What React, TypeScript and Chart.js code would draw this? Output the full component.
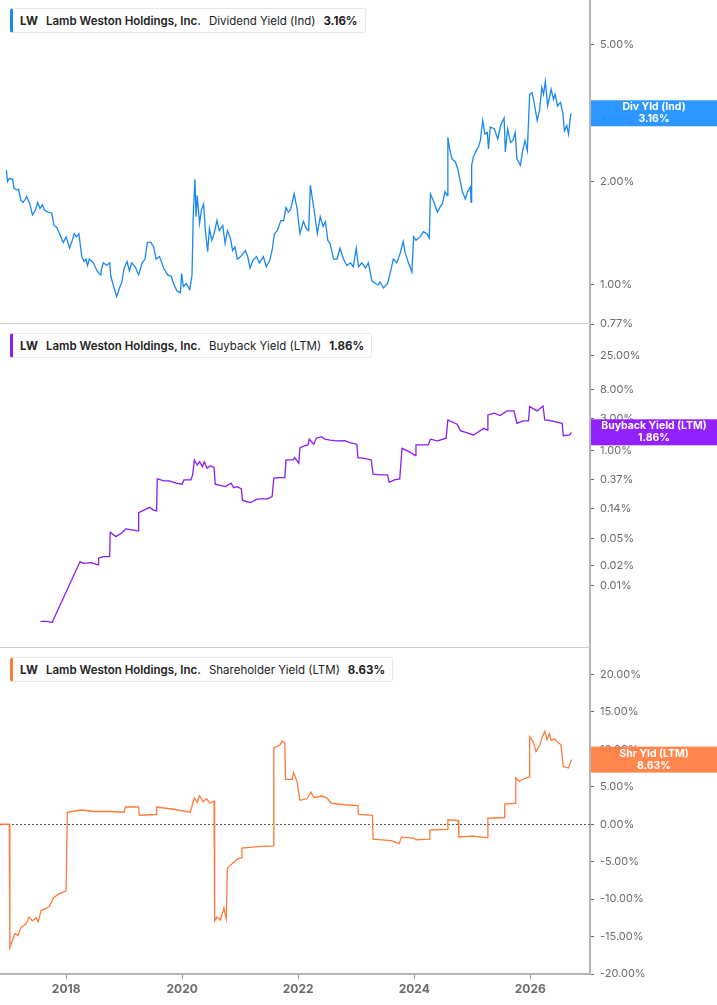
import React, { useEffect, useRef } from "react";
import { Chart, registerables } from "chart.js";

Chart.register(...registerables);

// ---------- DATA ----------
const yearTicks = [2018, 2020, 2022, 2024, 2026];
const xMin = 2016.86;
const xMax = 2027.03;

const divTicks = [0.77, 1, 2, 3, 5];
const buybackTicks = [0.01, 0.02, 0.05, 0.14, 0.37, 1, 3, 8, 25];
const shrTicks = [-20, -15, -10, -5, 0, 5, 10, 15, 20];

// Dividend Yield (Ind), % — [year, value]
const divYield: [number, number][] = [
  [2016.97, 2.16], [2016.99, 2.0], [2017.02, 2.04], [2017.08, 2.03], [2017.1, 1.91], [2017.15, 1.89],
  [2017.18, 1.9], [2017.22, 1.76], [2017.26, 1.74], [2017.29, 1.77], [2017.32, 1.81], [2017.37, 1.73],
  [2017.42, 1.6], [2017.47, 1.65], [2017.51, 1.74], [2017.55, 1.67], [2017.59, 1.71], [2017.63, 1.65],
  [2017.69, 1.63], [2017.75, 1.62], [2017.79, 1.49], [2017.84, 1.47], [2017.9, 1.39], [2017.95, 1.33],
  [2018.0, 1.38], [2018.06, 1.28], [2018.1, 1.34], [2018.14, 1.41], [2018.18, 1.38], [2018.22, 1.41],
  [2018.27, 1.21], [2018.31, 1.17], [2018.34, 1.19], [2018.37, 1.14], [2018.4, 1.19], [2018.47, 1.16],
  [2018.53, 1.1], [2018.59, 1.07], [2018.6, 1.09], [2018.64, 1.16], [2018.7, 1.14], [2018.75, 1.16],
  [2018.77, 1.06], [2018.82, 0.99], [2018.87, 0.925], [2018.92, 0.98], [2018.96, 1.02], [2019.0, 1.12],
  [2019.05, 1.17], [2019.09, 1.1], [2019.13, 1.16], [2019.19, 1.13], [2019.25, 1.07], [2019.31, 1.16],
  [2019.36, 1.19], [2019.4, 1.33], [2019.46, 1.33], [2019.51, 1.29], [2019.55, 1.19], [2019.61, 1.21],
  [2019.68, 1.12], [2019.75, 1.07], [2019.81, 1.06], [2019.85, 1.01], [2019.91, 0.96], [2019.97, 0.95],
  [2019.99, 1.08], [2020.02, 0.99], [2020.07, 1.01], [2020.13, 0.97], [2020.17, 1.07], [2020.19, 1.58],
  [2020.22, 2.03], [2020.24, 1.58], [2020.26, 1.82], [2020.3, 1.51], [2020.33, 1.65], [2020.37, 1.72],
  [2020.4, 1.44], [2020.44, 1.25], [2020.47, 1.46], [2020.51, 1.35], [2020.55, 1.41], [2020.6, 1.54],
  [2020.64, 1.44], [2020.7, 1.49], [2020.74, 1.32], [2020.78, 1.44], [2020.83, 1.37], [2020.87, 1.26],
  [2020.91, 1.29], [2020.95, 1.19], [2021.01, 1.21], [2021.09, 1.26], [2021.13, 1.21], [2021.17, 1.12],
  [2021.22, 1.18], [2021.28, 1.21], [2021.33, 1.16], [2021.4, 1.21], [2021.45, 1.13], [2021.51, 1.18],
  [2021.55, 1.26], [2021.59, 1.41], [2021.64, 1.44], [2021.7, 1.54], [2021.75, 1.54], [2021.79, 1.68],
  [2021.83, 1.63], [2021.87, 1.66], [2021.93, 1.84], [2021.98, 1.67], [2022.03, 1.41], [2022.09, 1.53],
  [2022.14, 1.46], [2022.18, 1.44], [2022.21, 1.95], [2022.25, 1.76], [2022.29, 1.58], [2022.33, 1.41],
  [2022.38, 1.58], [2022.43, 1.48], [2022.47, 1.53], [2022.51, 1.35], [2022.55, 1.32], [2022.61, 1.19],
  [2022.67, 1.19], [2022.72, 1.28], [2022.78, 1.19], [2022.84, 1.14], [2022.9, 1.16], [2022.95, 1.13],
  [2023.0, 1.28], [2023.04, 1.13], [2023.1, 1.16], [2023.16, 1.12], [2023.21, 1.16], [2023.27, 1.03],
  [2023.33, 1.01], [2023.38, 1.0], [2023.41, 1.02], [2023.47, 0.98], [2023.54, 1.01], [2023.59, 1.09],
  [2023.64, 1.19], [2023.7, 1.16], [2023.76, 1.24], [2023.81, 1.34], [2023.84, 1.25], [2023.9, 1.16],
  [2023.96, 1.09], [2023.99, 1.38], [2024.03, 1.35], [2024.1, 1.38], [2024.16, 1.43], [2024.22, 1.41],
  [2024.26, 1.37], [2024.28, 1.84], [2024.33, 1.76], [2024.4, 1.63], [2024.45, 1.69], [2024.49, 1.73],
  [2024.53, 1.87], [2024.57, 1.82], [2024.58, 2.69], [2024.61, 2.49], [2024.65, 2.33], [2024.71, 2.28],
  [2024.75, 2.18], [2024.79, 2.02], [2024.83, 1.87], [2024.88, 1.78], [2024.92, 1.87], [2024.97, 1.93],
  [2024.98, 1.74], [2024.99, 2.23], [2025.02, 2.36], [2025.07, 2.46], [2025.11, 2.53], [2025.14, 2.63],
  [2025.18, 3.01], [2025.22, 2.75], [2025.26, 2.78], [2025.28, 2.49], [2025.31, 2.88], [2025.38, 2.85],
  [2025.44, 2.66], [2025.49, 2.91], [2025.55, 3.06], [2025.57, 2.44], [2025.61, 2.85], [2025.66, 2.6],
  [2025.7, 2.63], [2025.74, 2.78], [2025.77, 2.33], [2025.83, 2.23], [2025.87, 2.46], [2025.91, 2.63],
  [2025.95, 2.46], [2025.99, 3.59], [2026.03, 3.63], [2026.06, 3.44], [2026.12, 3.01], [2026.16, 3.22],
  [2026.2, 3.76], [2026.23, 3.59], [2026.26, 3.91], [2026.3, 3.32], [2026.36, 3.71], [2026.4, 3.47],
  [2026.43, 3.59], [2026.47, 3.32], [2026.52, 3.4], [2026.56, 3.18], [2026.59, 2.81], [2026.63, 2.91],
  [2026.66, 2.75], [2026.7, 3.16],
];

// Buyback Yield (LTM), % — [year, value]
const buybackYield: [number, number][] = [
  [2017.56, 0.003], [2017.66, 0.003], [2017.76, 0.0029], [2018.24, 0.0229], [2018.3, 0.0216],
  [2018.43, 0.0221], [2018.55, 0.0204], [2018.56, 0.0257], [2018.64, 0.0271], [2018.75, 0.0271],
  [2018.76, 0.0621], [2018.86, 0.0535], [2018.95, 0.06], [2019.03, 0.0695], [2019.13, 0.0672],
  [2019.24, 0.0649], [2019.25, 0.121], [2019.35, 0.133], [2019.44, 0.145], [2019.5, 0.133],
  [2019.56, 0.128], [2019.57, 0.381], [2019.69, 0.356], [2019.78, 0.356], [2019.9, 0.329],
  [2020.0, 0.318], [2020.03, 0.368], [2020.15, 0.368], [2020.18, 0.436], [2020.21, 0.726],
  [2020.26, 0.612], [2020.3, 0.685], [2020.35, 0.578], [2020.38, 0.685], [2020.43, 0.548],
  [2020.49, 0.598], [2020.55, 0.559], [2020.57, 0.318], [2020.67, 0.303], [2020.75, 0.293],
  [2020.84, 0.329], [2020.89, 0.283], [2020.95, 0.293], [2021.02, 0.271], [2021.04, 0.185],
  [2021.11, 0.176], [2021.18, 0.17], [2021.29, 0.191], [2021.38, 0.193], [2021.47, 0.193],
  [2021.55, 0.209], [2021.58, 0.39], [2021.66, 0.398], [2021.77, 0.398], [2021.79, 0.726],
  [2021.91, 0.726], [2021.94, 0.785], [2022.01, 0.649], [2022.03, 1.1], [2022.12, 1.18],
  [2022.17, 1.21], [2022.19, 1.47], [2022.27, 1.24], [2022.31, 1.52], [2022.4, 1.6],
  [2022.46, 1.48], [2022.55, 1.43], [2022.67, 1.39], [2022.8, 1.4], [2022.89, 1.31],
  [2023.01, 1.24], [2023.03, 0.785], [2023.14, 0.769], [2023.26, 0.726], [2023.29, 0.447],
  [2023.41, 0.436], [2023.54, 0.436], [2023.57, 0.34], [2023.66, 0.368], [2023.75, 0.381],
  [2023.79, 1.08], [2023.91, 0.963], [2024.02, 0.841], [2024.03, 1.21], [2024.15, 1.21],
  [2024.24, 1.21], [2024.28, 1.47], [2024.4, 1.39], [2024.55, 1.52], [2024.58, 2.83],
  [2024.74, 2.45], [2024.8, 1.95], [2024.89, 1.86], [2025.02, 1.7], [2025.11, 1.9],
  [2025.2, 2.13], [2025.26, 2.01], [2025.27, 3.36], [2025.38, 3.56], [2025.48, 3.28],
  [2025.6, 3.85], [2025.72, 3.85], [2025.77, 2.53], [2025.88, 2.74], [2025.97, 2.74],
  [2025.99, 4.45], [2026.12, 3.85], [2026.22, 4.56], [2026.25, 2.83], [2026.37, 2.74],
  [2026.55, 2.53], [2026.57, 1.66], [2026.68, 1.7], [2026.71, 1.86],
];

// Shareholder Yield (LTM), % — [year, value]
const shrYield: [number, number][] = [
  [2016.87, 0], [2017.02, 0], [2017.03, -16.5], [2017.06, -15.8], [2017.12, -14.6], [2017.17, -14.9],
  [2017.22, -13.8], [2017.31, -13.3], [2017.36, -12.4], [2017.42, -12.9], [2017.48, -12.5],
  [2017.52, -13.0], [2017.57, -11.5], [2017.64, -11.3], [2017.71, -11.0], [2017.78, -9.8],
  [2017.88, -9.3], [2018.0, -8.9], [2018.02, 1.6], [2018.1, 1.7], [2018.26, 1.9], [2018.5, 1.7],
  [2018.75, 1.7], [2019.0, 1.6], [2019.02, 2.3], [2019.25, 2.3], [2019.26, 1.2], [2019.55, 1.3],
  [2019.56, 2.3], [2019.85, 2.0], [2020.14, 1.6], [2020.21, 3.5], [2020.26, 2.9], [2020.3, 3.8],
  [2020.36, 3.0], [2020.42, 3.4], [2020.48, 2.8], [2020.55, 3.1], [2020.56, -12.9], [2020.6, -12.4],
  [2020.66, -12.8], [2020.72, -11.2], [2020.76, -12.6], [2020.78, -5.9], [2020.84, -5.4],
  [2020.9, -5.0], [2020.96, -4.6], [2021.02, -4.5], [2021.03, -3.2], [2021.3, -3.0], [2021.57, -2.9],
  [2021.58, 10.2], [2021.69, 10.6], [2021.72, 11.1], [2021.77, 10.9], [2021.78, 6.0], [2021.9, 6.0],
  [2021.92, 6.9], [2021.98, 5.7], [2022.03, 3.2], [2022.15, 3.4], [2022.22, 4.3], [2022.27, 3.6],
  [2022.31, 3.6], [2022.4, 3.8], [2022.5, 3.5], [2022.57, 2.8], [2022.8, 2.6], [2023.03, 2.5],
  [2023.04, 1.3], [2023.28, 1.2], [2023.29, -2.0], [2023.6, -2.2], [2023.74, -2.6], [2023.78, -1.7],
  [2024.0, -1.9], [2024.03, -2.1], [2024.26, -2.0], [2024.27, -0.8], [2024.57, -0.7], [2024.58, 0.6],
  [2024.76, 0.5], [2024.77, -1.7], [2025.0, -1.6], [2025.26, -1.8], [2025.27, 0.8], [2025.55, 0.9],
  [2025.56, 2.7], [2025.74, 2.8], [2025.75, 6.2], [2025.81, 5.7], [2025.9, 6.1], [2025.98, 6.3],
  [2025.99, 11.7], [2026.05, 11.0], [2026.1, 9.7], [2026.16, 10.5], [2026.21, 11.7], [2026.25, 12.4],
  [2026.29, 11.3], [2026.33, 12.1], [2026.36, 11.2], [2026.42, 11.4], [2026.48, 10.9], [2026.53, 10.6],
  [2026.57, 7.7], [2026.66, 7.5], [2026.71, 8.63],
];

const ticker = "LW";
const company = "Lamb Weston Holdings, Inc.";

// ---------- COMPONENTS ----------
type PanelProps = {
  series: [number, number][];
  color: string;
  boxColor: string;
  scaleType: "logarithmic" | "linear";
  yMin: number;
  yMax: number;
  yTicks: number[];
  boxLines: [string, string];
  showX: boolean;
  zeroLine: boolean;
  top: number;
  height: number;
  padTop: number;
  padBottom: number;
};

function Panel(p: PanelProps) {
  const ref = useRef<HTMLCanvasElement | null>(null);
  useEffect(() => {
    if (!ref.current) return;
    const last = p.series[p.series.length - 1][1];
    const overlay = {
      id: "overlay",
      beforeDatasetsDraw(chart: any) {
        const { ctx, chartArea } = chart;
        if (p.zeroLine) {
          const y = Math.round(chart.scales.y.getPixelForValue(0)) + 0.5;
          ctx.save();
          ctx.strokeStyle = "#555";
          ctx.lineWidth = 1;
          ctx.setLineDash([2, 2]);
          ctx.beginPath();
          ctx.moveTo(chartArea.left, y);
          ctx.lineTo(chartArea.right, y);
          ctx.stroke();
          ctx.restore();
        }
        if (!p.showX) {
          const y = Math.round(chartArea.bottom) - 0.5;
          ctx.save();
          ctx.strokeStyle = "#cfcfcf";
          ctx.lineWidth = 1;
          ctx.beginPath();
          ctx.moveTo(chartArea.left, y);
          ctx.lineTo(chartArea.right, y);
          ctx.stroke();
          ctx.restore();
        }
      },
      afterDraw(chart: any) {
        const { ctx, chartArea } = chart;
        const y = chart.scales.y.getPixelForValue(last);
        const x0 = chartArea.right + 1;
        const w = chart.width - x0;
        ctx.save();
        ctx.globalAlpha = 0.93;
        ctx.fillStyle = p.boxColor;
        ctx.fillRect(x0, y - 13, w, 26);
        ctx.globalAlpha = 1;
        ctx.fillStyle = "#fff";
        ctx.font = "bold 10.5px Inter";
        ctx.textAlign = "center";
        ctx.textBaseline = "middle";
        const cx = x0 + w / 2;
        ctx.fillText(p.boxLines[0], cx, y - 6);
        ctx.fillText(p.boxLines[1], cx, y + 6);
        ctx.restore();
      },
    };
    const chart = new Chart(ref.current, {
      type: "line",
      data: {
        datasets: [
          {
            data: p.series.map(([x, y]) => ({ x, y })),
            borderColor: p.color,
            borderWidth: 1.3,
            pointRadius: 0,
            tension: 0,
            fill: false,
          },
        ],
      },
      options: {
        animation: false,
        responsive: false,
        maintainAspectRatio: false,
        layout: { padding: { top: p.padTop, bottom: p.padBottom, left: 0, right: 0 } },
        plugins: { legend: { display: false }, tooltip: { enabled: false } },
        scales: {
          x: {
            type: "linear",
            min: xMin,
            max: xMax,
            display: p.showX,
            afterBuildTicks: (s: any) => {
              s.ticks = yearTicks.map((v) => ({ value: v }));
            },
            afterFit: (s: any) => {
              s.height = p.showX ? 31 : 0;
              s.paddingLeft = 0;
              s.paddingRight = 0;
            },
            ticks: {
              callback: (v: any) => String(v),
              color: "#6b6b6b",
              font: { family: "Inter", size: 12, weight: "bold" },
              maxRotation: 0,
              autoSkip: false,
              padding: 3,
            },
            grid: { display: true, drawOnChartArea: false, tickLength: 5, color: "#999" },
            border: { display: true, color: "#b5b5b5", width: 2 },
          },
          y: {
            type: p.scaleType,
            position: "right",
            min: p.yMin,
            max: p.yMax,
            afterBuildTicks: (s: any) => {
              s.ticks = p.yTicks.map((v) => ({ value: v }));
            },
            afterFit: (s: any) => {
              s.width = 127;
              s.paddingTop = 0;
              s.paddingBottom = 0;
            },
            ticks: {
              callback: (v: any) => Number(v).toFixed(2) + "%",
              color: "#6b6b6b",
              font: { family: "Inter", size: 11 },
              padding: 6,
              autoSkip: false,
            },
            grid: { display: true, drawOnChartArea: false, tickLength: 4, color: "#666" },
            border: { display: true, color: "#b5b5b5", width: 2 },
          },
        },
      } as any,
      plugins: [overlay],
    });
    return () => chart.destroy();
  }, []);
  return (
    <canvas
      ref={ref}
      width={717}
      height={p.height}
      style={{ position: "absolute", left: 0, top: p.top, width: 717, height: p.height }}
    />
  );
}

function Legend(props: { top: number; color: string; metric: string; value: string }) {
  return (
    <div
      style={{
        position: "absolute",
        left: 10,
        top: props.top,
        height: 25,
        boxSizing: "border-box",
        display: "flex",
        alignItems: "center",
        gap: 8,
        padding: "0 7px 0 7px",
        background: "#fff",
        border: "1px solid #e8e8e8",
        borderLeft: `3px solid ${props.color}`,
        borderRadius: 3,
        fontFamily: "Inter, sans-serif",
        fontSize: 11.5,
        color: "#222",
        whiteSpace: "nowrap",
        zIndex: 5,
      }}
    >
      <span style={{ fontWeight: 700 }}>{ticker}</span>
      <span style={{ fontWeight: 600 }}>{company}</span>
      <span style={{ fontWeight: 400 }}>{props.metric}</span>
      <span style={{ fontWeight: 700 }}>{props.value}</span>
    </div>
  );
}

export default function App() {
  return (
    <div
      style={{
        position: "absolute",
        left: 0,
        top: 0,
        width: 717,
        height: 1005,
        background: "#fff",
        overflow: "hidden",
      }}
    >
      <Panel
        series={divYield}
        color="#1a88f2"
        boxColor="#1e8fff"
        scaleType="logarithmic"
        yMin={0.77}
        yMax={6.75}
        yTicks={divTicks}
        boxLines={["Div Yld (Ind)", "3.16%"]}
        showX={false}
        zeroLine={false}
        top={0}
        height={331}
        padTop={0}
        padBottom={7}
      />
      <Panel
        series={buybackYield}
        color="#8a1cf2"
        boxColor="#8a10ff"
        scaleType="logarithmic"
        yMin={0.00121}
        yMax={74.1}
        yTicks={buybackTicks}
        boxLines={["Buyback Yield (LTM)", "1.86%"]}
        showX={false}
        zeroLine={false}
        top={324}
        height={331}
        padTop={0}
        padBottom={7}
      />
      <Panel
        series={shrYield}
        color="#ff7a3a"
        boxColor="#ff7d3f"
        scaleType="linear"
        yMin={-20}
        yMax={23.4}
        yTicks={shrTicks}
        boxLines={["Shr Yld (LTM)", "8.63%"]}
        showX={true}
        zeroLine={true}
        top={648}
        height={357}
        padTop={1}
        padBottom={0}
      />
      <Legend top={8} color="#1a88f2" metric="Dividend Yield (Ind)" value="3.16%" />
      <Legend top={333} color="#8a1cf2" metric="Buyback Yield (LTM)" value="1.86%" />
      <Legend top={657} color="#ff7a3a" metric="Shareholder Yield (LTM)" value="8.63%" />
    </div>
  );
}
